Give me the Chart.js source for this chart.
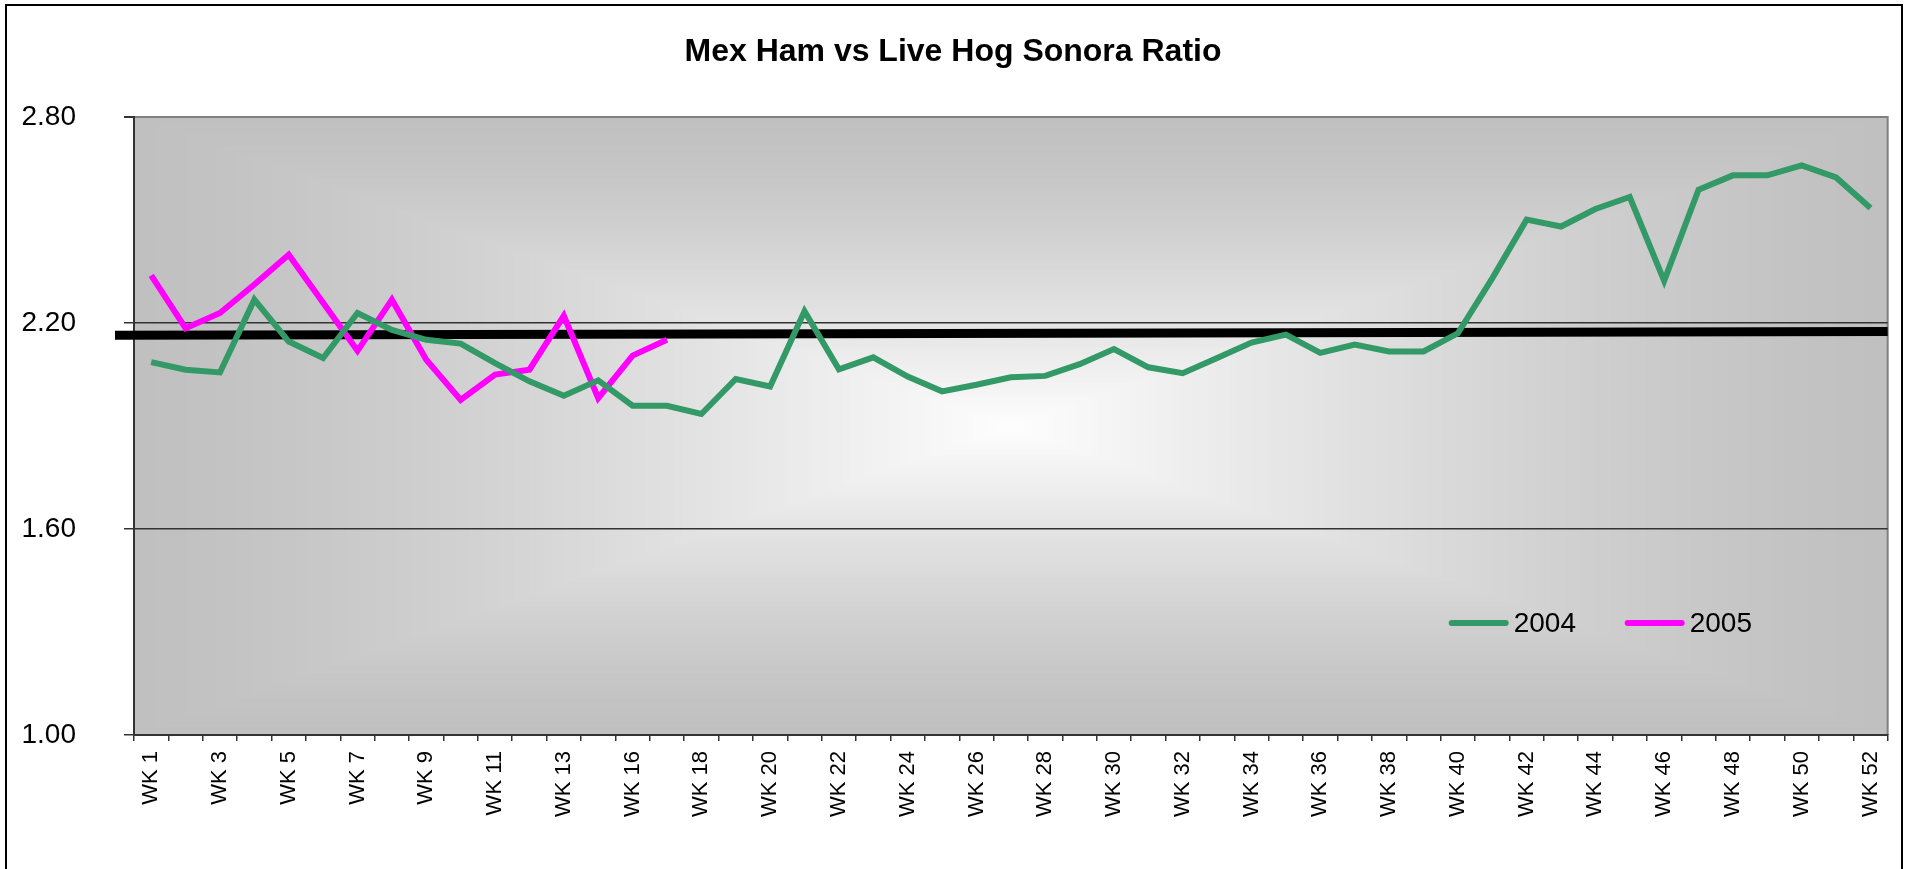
<!DOCTYPE html>
<html>
<head>
<meta charset="utf-8">
<title>Mex Ham vs Live Hog Sonora Ratio</title>
<script src="https://cdn.jsdelivr.net/npm/chart.js@4.4.1/dist/chart.umd.min.js"></script>
<style>
  html, body { margin: 0; padding: 0; background: #fff; }
  #wrap { width: 1907px; height: 869px; }
</style>
</head>
<body>
<div id="wrap"><canvas id="ratioChart" width="1907" height="869"></canvas></div>
<script>
// week labels (week 15 is not in the sheet)
const weeks = [
  "WK 1", "WK 2", "WK 3", "WK 4", "WK 5", "WK 6", "WK 7", "WK 8", "WK 9", "WK 10",
  "WK 11", "WK 12", "WK 13", "WK 14", "WK 16", "WK 17", "WK 18", "WK 19", "WK 20", "WK 21",
  "WK 22", "WK 23", "WK 24", "WK 25", "WK 26", "WK 27", "WK 28", "WK 29", "WK 30", "WK 31",
  "WK 32", "WK 33", "WK 34", "WK 35", "WK 36", "WK 37", "WK 38", "WK 39", "WK 40", "WK 41",
  "WK 42", "WK 43", "WK 44", "WK 45", "WK 46", "WK 47", "WK 48", "WK 49", "WK 50", "WK 51",
  "WK 52"
];

const ratio2004 = [
  2.086, 2.064, 2.056, 2.268, 2.146, 2.098, 2.229, 2.180, 2.151, 2.140,
  2.083, 2.030, 1.988, 2.033, 1.959, 1.959, 1.935, 2.037, 2.015, 2.234,
  2.065, 2.100, 2.044, 2.001, 2.020, 2.042, 2.046, 2.080, 2.124, 2.071,
  2.054, 2.098, 2.143, 2.166, 2.113, 2.137, 2.117, 2.117, 2.170, 2.330,
  2.501, 2.481, 2.532, 2.567, 2.323, 2.588, 2.630, 2.630, 2.659, 2.624,
  2.535
];

const ratio2005 = [
  2.339, 2.185, 2.229, 2.312, 2.399, 2.259, 2.119, 2.268, 2.093, 1.976,
  2.050, 2.064, 2.221, 1.981, 2.105, 2.151
];

const yTicks = [1.00, 1.60, 2.20, 2.80];

// the thick black average bar: value at its left end, value at its right end
const avgLine = [2.164, 2.175];

Chart.defaults.font.family = "'Liberation Sans', Arial, sans-serif";
Chart.defaults.color = "#000";

// grey "from centre" fill of the plot area + outer frame
const plotBackground = {
  id: "plotBackground",
  beforeDraw(chart) {
    const { ctx, chartArea: a } = chart;
    const cx = (a.left + a.right) / 2;
    const cy = (a.top + a.bottom) / 2;
    const hw = (a.right - a.left) / 2;
    const hh = (a.bottom - a.top) / 2;
    ctx.save();
    ctx.strokeStyle = "#000";
    ctx.lineWidth = 2;
    ctx.strokeRect(6, 5, chart.width - 11, chart.height + 20);

    const steps = 120;
    for (let k = 0; k < steps; k++) {
      const d = 1 - k / steps;
      const g = Math.round(192 + 62 * Math.pow(1 - d, 1.3));
      ctx.fillStyle = `rgb(${g},${g},${g})`;
      ctx.fillRect(cx - hw * d, cy - hh * d, 2 * hw * d, 2 * hh * d);
    }
    ctx.strokeStyle = "#808080";
    ctx.lineWidth = 2;
    ctx.beginPath();
    ctx.moveTo(a.left, a.top);
    ctx.lineTo(a.right, a.top);
    ctx.lineTo(a.right, a.bottom);
    ctx.stroke();
    ctx.restore();
  }
};

const averageLine = {
  id: "averageLine",
  beforeDatasetsDraw(chart) {
    const { ctx, chartArea: a, scales: { y } } = chart;
    ctx.save();
    ctx.strokeStyle = "#000";
    ctx.lineWidth = 9;
    ctx.beginPath();
    ctx.moveTo(a.left - 19, y.getPixelForValue(avgLine[0]));
    ctx.lineTo(a.right, y.getPixelForValue(avgLine[1]));
    ctx.stroke();
    ctx.restore();
  }
};

// legend sits inside the plot, lower right
const insideLegend = {
  id: "insideLegend",
  afterDraw(chart) {
    const { ctx, chartArea: a } = chart;
    const y = a.bottom - 112;
    let x = a.right - 439;
    ctx.save();
    ctx.font = "28px 'Liberation Sans', Arial, sans-serif";
    ctx.textBaseline = "middle";
    ctx.lineCap = "round";
    ctx.lineWidth = 6;
    chart.data.datasets.forEach((ds) => {
      ctx.strokeStyle = ds.borderColor;
      ctx.beginPath();
      ctx.moveTo(x + 3, y);
      ctx.lineTo(x + 57, y);
      ctx.stroke();
      ctx.fillStyle = "#000";
      ctx.fillText(ds.label, x + 65, y + 1);
      x += 176;
    });
    ctx.restore();
  }
};

const chart = new Chart(document.getElementById("ratioChart").getContext("2d"), {
  type: "line",
  data: {
    labels: weeks,
    datasets: [{
        label: "2004",
        data: ratio2004,
        borderColor: "#339966",
        borderWidth: 6,
        pointRadius: 0,
        fill: false,
      },
      {
        label: "2005",
        data: ratio2005,
        borderColor: "#ff00ff",
        borderWidth: 6,
        pointRadius: 0,
        fill: false,
      },
    ],
  },
  options: {
    responsive: false,
    animation: false,
    layout: {
      padding: { left: 12, right: 13, top: 30, bottom: 0 },
    },
    plugins: {
      legend: { display: false },
      tooltip: { enabled: false },
      title: {
        display: true,
        text: "Mex Ham vs Live Hog Sonora Ratio",
        color: "#000",
        font: { size: 32, weight: "bold" },
        padding: { top: 3, bottom: 45.6 },
      },
    },
    scales: {
      x: {
        offset: true,
        grid: {
          offset: true,
          drawOnChartArea: false,
          tickLength: 6,
          color: "#333",
          lineWidth: 1.5,
        },
        border: { color: "#333", width: 2 },
        ticks: {
          autoSkip: false,
          minRotation: 90,
          maxRotation: 90,
          padding: 10,
          color: "#000",
          font: { size: 22 },
          callback: (value, index) => index % 2 === 0 ? weeks[index] : "",
        },
        afterFit: (scale) => { scale.height = 134; },
      },
      y: {
        min: 1,
        max: 2.8,
        afterBuildTicks: (scale) => {
          scale.ticks = yTicks.map((v) => ({ value: v }));
        },
        grid: {
          color: (c) => c.tick && c.tick.value === 2.8 ? "#808080" : "#333",
          lineWidth: (c) => c.tick && c.tick.value === 2.8 ? 2 : 1.5,
          tickLength: 10,
          tickColor: "#333",
        },
        border: { color: "#333", width: 2 },
        ticks: {
          padding: 48,
          color: "#000",
          font: { size: 28 },
          callback: (value) => Number(value).toFixed(2),
        },
        afterFit: (scale) => { scale.width = 122; },
      },
    },
  },
  plugins: [plotBackground, averageLine, insideLegend],
});
</script>
</body>
</html>
